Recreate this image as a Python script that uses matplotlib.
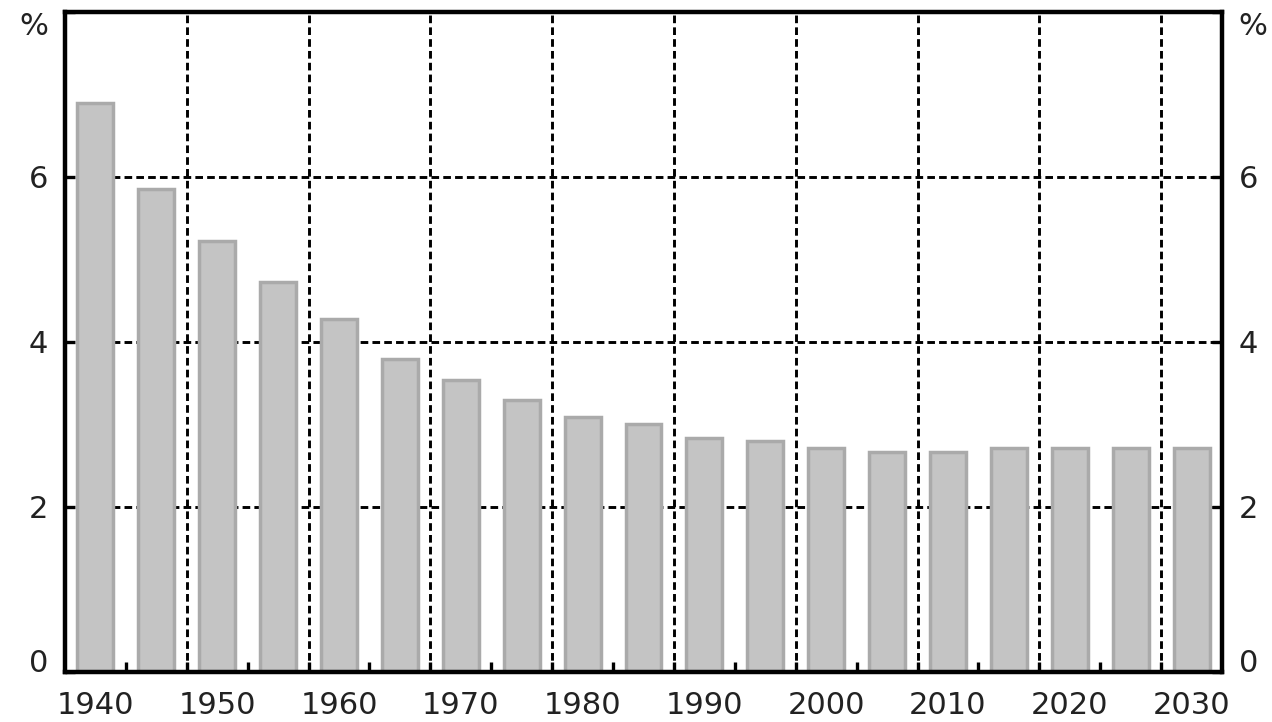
import matplotlib.pyplot as plt
import numpy as np

plt.rcParams['lines.scale_dashes'] = False

years = np.arange(1940, 2031, 5)
values = [6.90, 5.86, 5.23, 4.73, 4.28, 3.79, 3.54, 3.30, 3.09, 3.01,
          2.84, 2.80, 2.72, 2.67, 2.67, 2.72, 2.72, 2.72, 2.72]
ytick_vals = [0, 2, 4, 6, 8]
ytick_labels = ['0', '2', '4', '6', '%']

fig = plt.figure(figsize=(12.72, 7.22), dpi=100)
ax = fig.add_axes([0.0511, 0.0693, 0.9096, 0.9141])

ax.bar(years, values, width=2.95, color='#c4c4c4', edgecolor='#aaaaaa',
       linewidth=2.5, zorder=2)

# gridlines sit in the gaps between bars, every other gap
gaps = years[:-1] + 2.5
for g in gaps[1::2]:
    ax.axvline(g, color='black', lw=2.1, dashes=(5.5, 3), zorder=1)
for yv in ytick_vals[1:-1]:
    ax.axhline(yv, color='black', lw=2.1, dashes=(5.5, 3), zorder=1)

ax.set_xlim(years[0] - 2.5, years[-1] + 2.5)
ax.set_ylim(0, 8)

ax.set_xticks(years[::2])
ax.set_xticklabels([str(y) for y in years[::2]])
ax.set_xticks(gaps, minor=True)
ax.tick_params(axis='x', which='major', length=0, pad=14, labelsize=22,
               labelcolor='#222222')
ax.tick_params(axis='x', which='minor', direction='in', length=7, width=2.4,
               top=False)

ax.set_yticks(ytick_vals)
ax.set_yticklabels(ytick_labels)
ax.tick_params(axis='y', direction='in', length=7, width=2.4, left=True,
               right=True, labelleft=True, labelright=True, labelsize=22,
               labelcolor='#222222', pad=12)

ticks = ax.yaxis.get_major_ticks()
for lab in (ticks[0].label1, ticks[0].label2):
    lab.set_va('baseline')
for lab in (ticks[-1].label1, ticks[-1].label2):
    lab.set_va('top')

for s in ax.spines.values():
    s.set_linewidth(3.2)
    s.set_zorder(3)

fig.savefig('out.png', dpi=100)
